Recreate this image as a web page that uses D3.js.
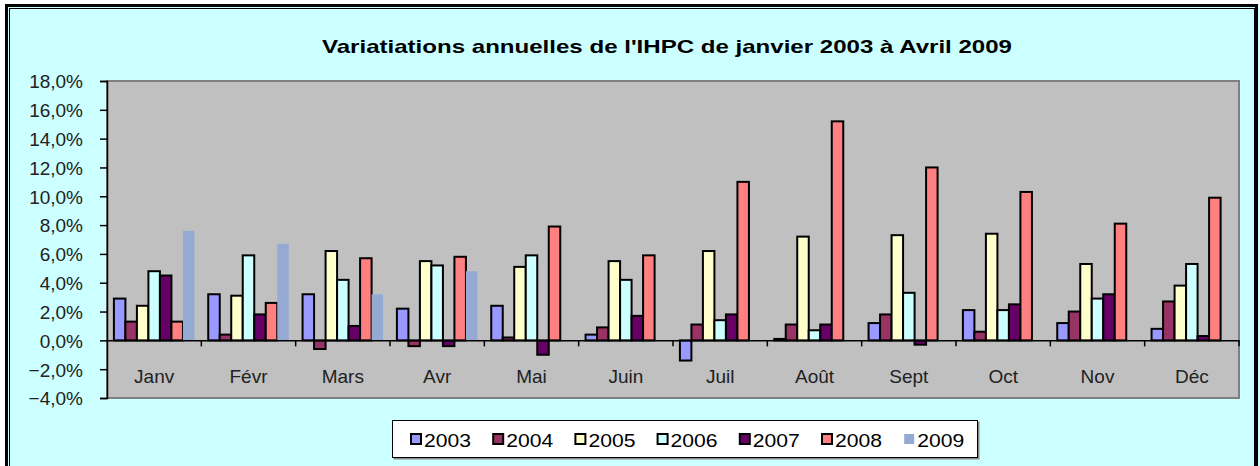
<!DOCTYPE html>
<html><head><meta charset="utf-8">
<script src="https://cdn.jsdelivr.net/npm/d3@7"></script>
<style>
html,body{margin:0;padding:0;background:#fff;}
svg{display:block;font-family:"Liberation Sans",Arial,sans-serif;}
</style></head>
<body><svg id="c" width="1260" height="466"></svg>
<script>
const title = "Variatiations annuelles de l'IHPC de janvier 2003 à Avril 2009";
const months = ["Janv","Févr","Mars","Avr","Mai","Juin","Juil","Août","Sept","Oct","Nov","Déc"];
const years = ["2003","2004","2005","2006","2007","2008","2009"];
const v2003 = [2.9,3.2,3.2,2.2,2.4,0.4,-1.4,0.1,1.2,2.1,1.2,0.8];
const v2004 = [1.3,0.4,-0.6,-0.4,0.2,0.9,1.1,1.1,1.8,0.6,2.0,2.7];
const v2005 = [2.4,3.1,6.2,5.5,5.1,5.5,6.2,7.2,7.3,7.4,5.3,3.8];
const v2006 = [4.8,5.9,4.2,5.2,5.9,4.2,1.4,0.7,3.3,2.1,2.9,5.3];
const v2007 = [4.5,1.8,1.0,-0.4,-1.0,1.7,1.8,1.1,-0.3,2.5,3.2,0.3];
const v2008 = [1.3,2.6,5.7,5.8,7.9,5.9,11.0,15.2,12.0,10.3,8.1,9.9];
const v2009 = [7.6,6.7,3.2,4.8,null,null,null,null,null,null,null,null];
const yTicks = [-4,-2,0,2,4,6,8,10,12,14,16,18];
const colors = ["#9999FF","#993366","#FFFFCC","#CCFFFF","#660066","#FF8080","#95AAD3"];
const outlined = [true,true,true,true,true,true,false];

const series = [v2003,v2004,v2005,v2006,v2007,v2008,v2009];
const svg = d3.select("#c");

// background & borders
svg.append("rect").attr("x",5).attr("y",4).attr("width",1254).attr("height",470).attr("fill","#CCFFFF");
svg.append("rect").attr("x",6.5).attr("y",5.5).attr("width",1250).attr("height",470)
  .attr("fill","none").attr("stroke","#000").attr("stroke-width",3);
svg.append("rect").attr("x",9.5).attr("y",8.5).attr("width",1245).attr("height",470)
  .attr("fill","none").attr("stroke","#000").attr("stroke-width",1);

const L=107, R=1239, T=81, B=398;
const y = d3.scaleLinear().domain([-4,18]).range([B,T]);
const x0 = d3.scaleBand().domain(months).range([L,R]).padding(0);
const bw = x0.bandwidth();
const pad = bw*0.6/8.2;
const x1 = d3.scaleBand().domain(years).range([pad,bw-pad]).padding(0);

// plot area
svg.append("rect").attr("x",L).attr("y",T).attr("width",R-L).attr("height",B-T)
  .attr("fill","#C0C0C0").attr("stroke","#808080").attr("stroke-width",2);

// title
svg.append("text").attr("x",667).attr("y",53).attr("text-anchor","middle")
  .attr("font-size",19).attr("font-weight","bold").attr("fill","#000")
  .attr("textLength",690).attr("lengthAdjust","spacingAndGlyphs").text(title);

// bars
const g = svg.append("g");
series.forEach((vals,si)=>{
  g.selectAll(null).data(months.map((m,i)=>({m,v:vals[i]})).filter(d=>d.v!==null))
   .enter().append("rect")
   .attr("x",d=>x0(d.m)+x1(years[si]))
   .attr("width",x1.bandwidth())
   .attr("y",d=>y(Math.max(0,d.v)))
   .attr("height",d=>Math.abs(y(d.v)-y(0)))
   .attr("fill",colors[si])
   .attr("stroke",outlined[si]?"#000":"none")
   .attr("stroke-width",2);
});

// y axis
const fmt = d3.formatLocale({decimal:",",thousands:" ",grouping:[3],currency:["","€"]}).format(".1f");
const yAxis = d3.axisLeft(y).tickValues(yTicks).tickSize(7).tickPadding(17)
  .tickFormat(d=>fmt(d)+"%");
const ya = svg.append("g").attr("transform",`translate(${L},0)`).call(yAxis);
ya.select(".domain").attr("stroke","#000").attr("stroke-width",1.5);
ya.selectAll(".tick line").attr("stroke","#000").attr("stroke-width",1.5);
ya.selectAll(".tick text").attr("font-size",19).attr("fill","#222")
  .attr("font-family","'Liberation Sans',Arial,sans-serif").attr("dy","0.36em");

// x axis at zero
const xAxis = d3.axisBottom(x0).tickSize(0).tickPadding(0);
const xa = svg.append("g").attr("transform",`translate(0,${y(0)})`).call(xAxis);
xa.select(".domain").attr("stroke","#000").attr("stroke-width",1.5);
xa.selectAll(".tick text").attr("font-size",19).attr("fill","#222")
  .attr("font-family","'Liberation Sans',Arial,sans-serif").attr("dy",0).attr("y",43);
// boundary ticks
const bounds = months.map(m=>x0(m)).concat([R]).slice(1);
svg.append("g").selectAll("line").data(bounds).enter().append("line")
  .attr("x1",d=>d).attr("x2",d=>d).attr("y1",y(0)).attr("y2",y(0)+6)
  .attr("stroke","#000").attr("stroke-width",1.5);

// legend
const lg = svg.append("g");
lg.append("rect").attr("x",393.5).attr("y",421.5).attr("width",586).attr("height",38)
  .attr("fill","#888");
lg.append("rect").attr("x",392.5).attr("y",420.5).attr("width",585).attr("height",37)
  .attr("fill","#fff").attr("stroke","#000").attr("stroke-width",1);
years.forEach((yr,i)=>{
  const lx = 411 + i*82.2;
  lg.append("rect").attr("x",lx).attr("y",434).attr("width",10).attr("height",10)
    .attr("fill",colors[i]).attr("stroke",outlined[i]?"#000":"none").attr("stroke-width",2);
  lg.append("text").attr("x",lx+13).attr("y",446.5).attr("font-size",19).attr("fill","#000")
    .attr("textLength",47).attr("lengthAdjust","spacingAndGlyphs").text(yr);
});
</script></body></html>
